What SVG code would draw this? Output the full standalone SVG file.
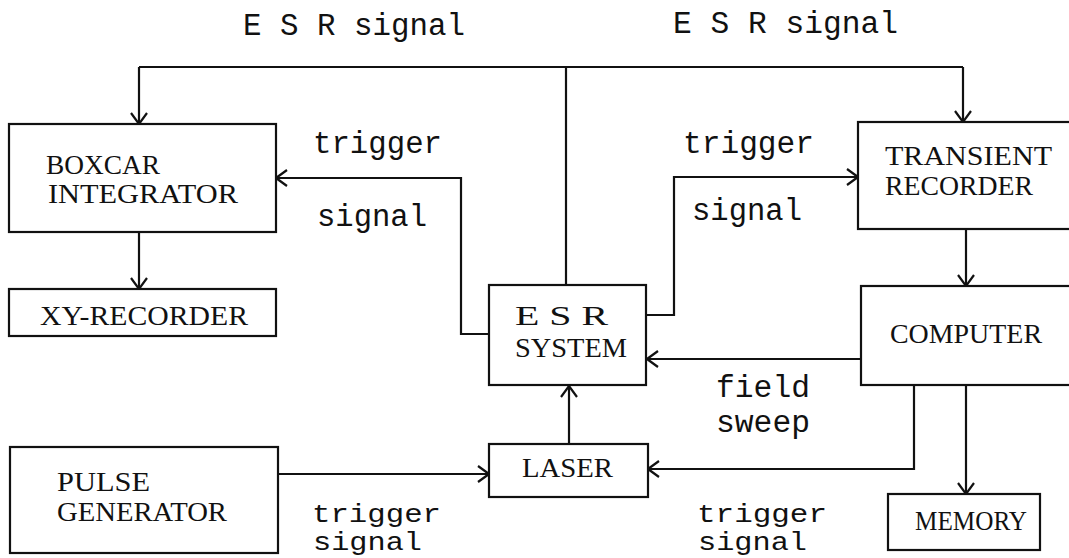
<svg xmlns="http://www.w3.org/2000/svg" width="1069" height="558" viewBox="0 0 1069 558">
<defs>
<style>
.box{fill:#fff;stroke:#111;stroke-width:2.2}
.ln{fill:none;stroke:#111;stroke-width:2.2}
.bt{font-family:"Liberation Serif","Times New Roman",serif;font-size:28px;fill:#111}
.lb{font-family:"Liberation Mono","Courier New",monospace;font-size:31px;fill:#111}
.lbs{font-family:"Liberation Mono","Courier New",monospace;font-size:26px;fill:#111}
</style>
<marker id="ah" markerUnits="userSpaceOnUse" markerWidth="14" markerHeight="20" viewBox="0 0 14 20" refX="13" refY="10" orient="auto">
<path d="M2,2 L13,10 L2,18" fill="none" stroke="#111" stroke-width="2.2"/>
</marker>
</defs>
<rect width="1069" height="558" fill="#fff"/>
<g id="connectors">
<line class="ln" x1="566" y1="285" x2="566" y2="67"/>
<line class="ln" x1="139" y1="67" x2="963" y2="67"/>
<line class="ln" x1="139" y1="67" x2="139" y2="124" marker-end="url(#ah)"/>
<line class="ln" x1="963" y1="67" x2="963" y2="122" marker-end="url(#ah)"/>
<polyline class="ln" points="489,334 461,334 461,178 276,178" marker-end="url(#ah)"/>
<polyline class="ln" points="646,315 674,315 674,177 858,177" marker-end="url(#ah)"/>
<line class="ln" x1="139" y1="232" x2="139" y2="289" marker-end="url(#ah)"/>
<line class="ln" x1="966" y1="229" x2="966" y2="286" marker-end="url(#ah)"/>
<line class="ln" x1="861" y1="359" x2="647" y2="359" marker-end="url(#ah)"/>
<polyline class="ln" points="914,385 914,469 648,469" marker-end="url(#ah)"/>
<line class="ln" x1="966" y1="385" x2="966" y2="494" marker-end="url(#ah)"/>
<line class="ln" x1="569" y1="444" x2="569" y2="386" stroke-width="3.2" marker-end="url(#ah)"/>
<line class="ln" x1="278" y1="474" x2="489" y2="474" marker-end="url(#ah)"/>
</g>
<g id="labels">
<text class="lb" x="243" y="35" textLength="222" lengthAdjust="spacingAndGlyphs">E S R signal</text>
<text class="lb" x="673" y="33" textLength="225" lengthAdjust="spacingAndGlyphs">E S R signal</text>
<text class="lb" x="313" y="153" textLength="129" lengthAdjust="spacingAndGlyphs">trigger</text>
<text class="lb" x="317" y="226" textLength="110" lengthAdjust="spacingAndGlyphs">signal</text>
<text class="lb" x="683" y="153" textLength="131" lengthAdjust="spacingAndGlyphs">trigger</text>
<text class="lb" x="692" y="220" textLength="110" lengthAdjust="spacingAndGlyphs">signal</text>
<text class="lb" x="716" y="397" textLength="94" lengthAdjust="spacingAndGlyphs">field</text>
<text class="lb" x="716" y="432" textLength="94" lengthAdjust="spacingAndGlyphs">sweep</text>
<text class="lbs" x="312" y="522" textLength="129" lengthAdjust="spacingAndGlyphs">trigger</text>
<text class="lbs" x="313" y="550" textLength="109" lengthAdjust="spacingAndGlyphs">signal</text>
<text class="lbs" x="697" y="522" textLength="130" lengthAdjust="spacingAndGlyphs">trigger</text>
<text class="lbs" x="698" y="550" textLength="109" lengthAdjust="spacingAndGlyphs">signal</text>
</g>
<g id="boxcar">
<rect class="box" x="9" y="124" width="267" height="108"/>
<text class="bt" x="46" y="174" textLength="114" lengthAdjust="spacingAndGlyphs">BOXCAR</text>
<text class="bt" x="48" y="203" textLength="190" lengthAdjust="spacingAndGlyphs">INTEGRATOR</text>
</g>
<g id="xyrecorder">
<rect class="box" x="9" y="289" width="267" height="47"/>
<text class="bt" x="40" y="325" textLength="208" lengthAdjust="spacingAndGlyphs">XY-RECORDER</text>
</g>
<g id="esr">
<rect class="box" x="489" y="285" width="157" height="100"/>
<text class="bt" x="515" y="325" textLength="93" lengthAdjust="spacingAndGlyphs">E S R</text>
<text class="bt" x="515" y="357" textLength="112" lengthAdjust="spacingAndGlyphs">SYSTEM</text>
</g>
<g id="transient">
<rect class="box" x="858" y="122" width="230" height="107"/>
<text class="bt" x="885" y="165" textLength="167" lengthAdjust="spacingAndGlyphs">TRANSIENT</text>
<text class="bt" x="885" y="195" textLength="148" lengthAdjust="spacingAndGlyphs">RECORDER</text>
</g>
<g id="computer">
<rect class="box" x="861" y="286" width="230" height="99"/>
<text class="bt" x="890" y="343" textLength="152" lengthAdjust="spacingAndGlyphs">COMPUTER</text>
</g>
<g id="laser">
<rect class="box" x="489" y="444" width="159" height="53"/>
<text class="bt" x="522" y="477" textLength="91" lengthAdjust="spacingAndGlyphs">LASER</text>
</g>
<g id="memory">
<rect class="box" x="888" y="494" width="152" height="56"/>
<text class="bt" x="915" y="530" textLength="112" lengthAdjust="spacingAndGlyphs">MEMORY</text>
</g>
<g id="pulse">
<rect class="box" x="10" y="447" width="268" height="106"/>
<text class="bt" x="57" y="491" textLength="93" lengthAdjust="spacingAndGlyphs">PULSE</text>
<text class="bt" x="57" y="521" textLength="170" lengthAdjust="spacingAndGlyphs">GENERATOR</text>
</g>
</svg>
